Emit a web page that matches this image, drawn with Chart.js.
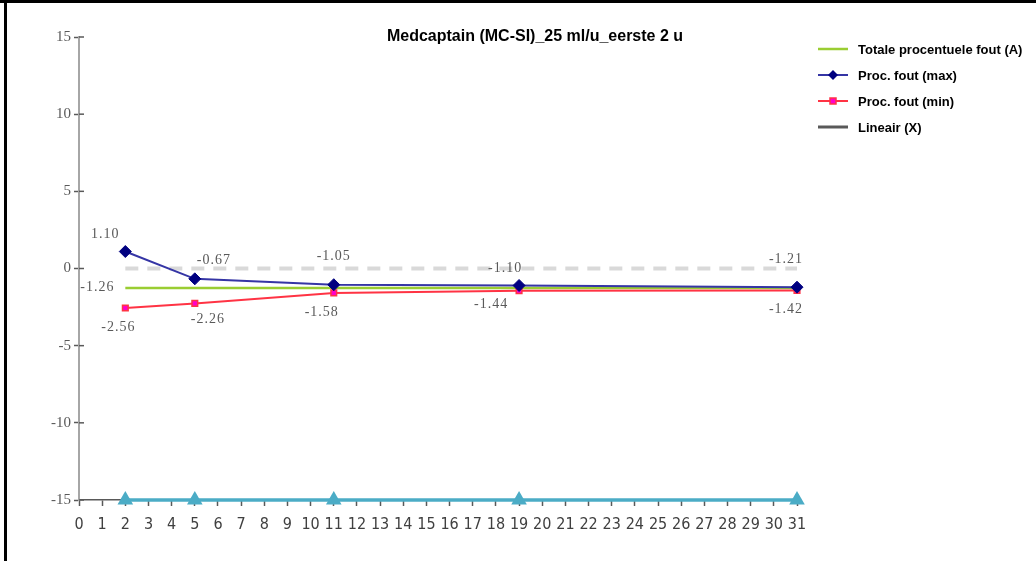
<!DOCTYPE html>
<html>
<head>
<meta charset="utf-8">
<script src="https://cdn.jsdelivr.net/npm/chart.js@4/dist/chart.umd.min.js"></script>
<style>
  html, body { margin: 0; padding: 0; background: #fff; }
  #wrap { position: relative; width: 1036px; height: 561px; overflow: hidden; }
  #c { position: absolute; left: 0; top: 0; }
  .edge-top { position: absolute; left: 0; top: 0; width: 1036px; height: 3px; background: #000; }
  .edge-left { position: absolute; left: 4px; top: 0; width: 3px; height: 561px; background: #000; }
</style>
</head>
<body>
<div id="wrap">
  <canvas id="c" width="1036" height="561"></canvas>
  <div class="edge-top"></div>
  <div class="edge-left"></div>
</div>
<script>
// Measurement days (x positions)
const days = [2, 5, 11, 19, 31];

// Series values
const totaalFout = [-1.26, -1.26, -1.26, -1.26, -1.26];
const foutMax = [1.10, -0.67, -1.05, -1.10, -1.21];
const foutMin = [-2.56, -2.26, -1.58, -1.44, -1.42];
const nulLijn = [0, 0, 0, 0, 0];
const basisLijn = [-15, -15, -15, -15, -15];

// Axis ranges / ticks
const xMin = 0, xMax = 31, xStep = 1;
const yMin = -15, yMax = 15, yStep = 5;

const titleText = 'Medcaptain (MC-SI)_25 ml/u_eerste 2 u';
const legendNames = ['Totale procentuele fout (A)', 'Proc. fout (max)', 'Proc. fout (min)', 'Lineair (X)'];

const pts = vals => days.map((d, i) => ({ x: d, y: vals[i] }));

// Label placement relative to each point (px)
const maxLabelOffsets = [[-20, -17], [19, -19], [0, -28], [-14, -17], [-11, -28]];
const minLabelOffsets = [[-7, 19], [13, 16], [-12, 19], [-28, 14], [-11, 19]];
const totLabelOffsets = [[-28, -1], null, null, null, null];

const labelFont = '14px "Liberation Serif", "DejaVu Serif", serif';

const valueLabels = {
  id: 'valueLabels',
  afterDatasetsDraw(chart) {
    const ctx = chart.ctx;
    ctx.save();
    ctx.font = labelFont;
    ctx.fillStyle = '#595959';
    ctx.textAlign = 'center';
    ctx.textBaseline = 'middle';
    if ('letterSpacing' in ctx) ctx.letterSpacing = '1px';
    chart.data.datasets.forEach((ds, di) => {
      if (!ds.labelOffsets) return;
      const meta = chart.getDatasetMeta(di);
      meta.data.forEach((el, i) => {
        const off = ds.labelOffsets[i];
        if (!off) return;
        ctx.fillText(ds.data[i].y.toFixed(2), el.x + off[0], el.y + off[1]);
      });
    });
    ctx.restore();
  }
};

// y-axis tick marks cross the axis line: draw the inner half
const innerTicks = {
  id: 'innerTicks',
  afterDatasetsDraw(chart) {
    const ctx = chart.ctx;
    const y = chart.scales.y;
    const left = chart.chartArea.left;
    ctx.save();
    ctx.strokeStyle = '#595959';
    ctx.lineWidth = 1.5;
    y.ticks.forEach(t => {
      const py = y.getPixelForValue(t.value);
      ctx.beginPath();
      ctx.moveTo(left, py);
      ctx.lineTo(left + 5, py);
      ctx.stroke();
    });
    ctx.restore();
  }
};

// Title drawn inside the plot region, plus the side legend
const decorations = {
  id: 'decorations',
  afterDraw(chart) {
    const ctx = chart.ctx;
    ctx.save();
    ctx.fillStyle = '#000';
    ctx.font = 'bold 16px "Liberation Sans", Arial, sans-serif';
    ctx.textAlign = 'center';
    ctx.textBaseline = 'middle';
    ctx.fillText(titleText, 535, 37);

    const items = [
      { color: '#9ACD32', width: 2.5, marker: null },
      { color: '#3535a5', width: 2, marker: 'diamond', mfill: '#000080' },
      { color: '#ff3344', width: 2, marker: 'square', mfill: '#ff00cc' },
      { color: '#595959', width: 3, marker: null }
    ];
    ctx.font = 'bold 13px "Liberation Sans", Arial, sans-serif';
    ctx.textAlign = 'left';
    items.forEach((it, i) => {
      const y = 49 + i * 26;
      ctx.strokeStyle = it.color;
      ctx.lineWidth = it.width;
      ctx.beginPath();
      ctx.moveTo(818, y);
      ctx.lineTo(848, y);
      ctx.stroke();
      if (it.marker === 'diamond') {
        ctx.fillStyle = it.mfill;
        ctx.beginPath();
        ctx.moveTo(833, y - 5); ctx.lineTo(838, y); ctx.lineTo(833, y + 5); ctx.lineTo(828, y);
        ctx.closePath(); ctx.fill();
      } else if (it.marker === 'square') {
        ctx.fillStyle = it.mfill;
        ctx.strokeStyle = '#ff3344';
        ctx.lineWidth = 1.5;
        ctx.fillRect(830, y - 3, 6, 6);
        ctx.strokeRect(830, y - 3, 6, 6);
      }
      ctx.fillStyle = '#000';
      ctx.fillText(legendNames[i], 858, y + 1);
    });
    ctx.restore();
  }
};

new Chart(document.getElementById('c'), {
  type: 'line',
  data: {
    datasets: [
      {
        label: 'basis',
        data: pts(basisLijn),
        borderColor: '#4BACC6',
        backgroundColor: '#4BACC6',
        borderWidth: 3.5,
        pointStyle: 'triangle',
        pointRadius: 9,
        pointBorderWidth: 0,
        clip: false,
        order: 5
      },
      {
        label: 'nul',
        data: pts(nulLijn),
        borderColor: '#d9d9d9',
        borderWidth: 4,
        borderDash: [13, 9],
        pointRadius: 0,
        clip: false,
        order: 4
      },
      {
        label: legendNames[0],
        data: pts(totaalFout),
        borderColor: '#9ACD32',
        borderWidth: 2.5,
        pointRadius: 0,
        labelOffsets: totLabelOffsets,
        clip: false,
        order: 3
      },
      {
        label: legendNames[2],
        data: pts(foutMin),
        borderColor: '#ff3344',
        backgroundColor: '#ff00cc',
        borderWidth: 2,
        pointStyle: 'rect',
        pointRadius: 4,
        pointBorderColor: '#ff3344',
        pointBorderWidth: 1.5,
        labelOffsets: minLabelOffsets,
        clip: false,
        order: 2
      },
      {
        label: legendNames[1],
        data: pts(foutMax),
        borderColor: '#3535a5',
        backgroundColor: '#000080',
        borderWidth: 2,
        pointStyle: 'rectRot',
        pointRadius: 6,
        pointBorderColor: '#000080',
        pointBorderWidth: 1,
        labelOffsets: maxLabelOffsets,
        clip: false,
        order: 1
      }
    ]
  },
  options: {
    responsive: false,
    animation: false,
    events: [],
    layout: { padding: { left: 0, top: 37, right: 239, bottom: 0 } },
    plugins: {
      legend: { display: false },
      title: { display: false },
      tooltip: { enabled: false }
    },
    scales: {
      x: {
        type: 'linear',
        min: xMin,
        max: xMax,
        afterFit(s) { s.height = 61; },
        ticks: {
          stepSize: xStep,
          autoSkip: false,
          maxRotation: 0,
          padding: 9,
          color: '#404040',
          font: { family: '"Liberation Sans Narrow", "DejaVu Sans Condensed", "Liberation Sans", sans-serif', size: 16 }
        },
        grid: { drawOnChartArea: false, tickLength: 6, color: '#595959', tickWidth: 1.5 },
        border: { color: '#595959', width: 1.5 }
      },
      y: {
        min: yMin,
        max: yMax,
        afterFit(s) { s.width = 79; },
        ticks: {
          stepSize: yStep,
          padding: 3,
          color: '#595959',
          font: { family: '"Liberation Serif", "DejaVu Serif", serif', size: 15 }
        },
        grid: { drawOnChartArea: false, tickLength: 5, color: '#595959', tickWidth: 1.5 },
        border: { color: '#a6a6a6', width: 2 }
      }
    }
  },
  plugins: [innerTicks, valueLabels, decorations]
});
</script>
</body>
</html>
